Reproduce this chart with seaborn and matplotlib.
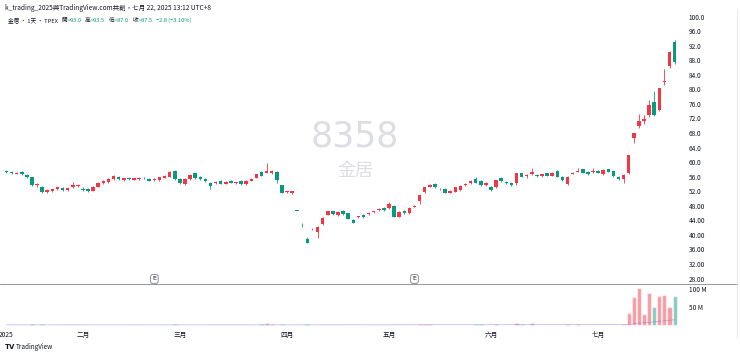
import numpy as np
import pandas as pd
import matplotlib
matplotlib.use('Agg')
import matplotlib.pyplot as plt
import seaborn as sns

# trading calendar (TPEX 2025, exchange holidays removed)
holidays = ['2025-01-01', '2025-01-23', '2025-01-24', '2025-01-27', '2025-01-28',
            '2025-01-29', '2025-01-30', '2025-01-31', '2025-02-28', '2025-04-03',
            '2025-04-04', '2025-05-01', '2025-05-30']
month_names = ['2025', '二月', '三月', '四月', '五月', '六月', '七月']

open_ = [57.5, 57.4, 56.8, 57.3, 56.5, 55.8, 53.6, 53.3, 51.9, 52.1, 52.6, 52.9, 52.3, 53.2, 53.5,
         52.5, 52.6, 52.2, 53.3, 54.2, 54.6, 55.4, 56.0, 55.1, 55.6, 55.2, 55.3, 55.7, 55.3, 55.0,
         55.0, 55.7, 56.0, 57.5,
         55.3, 54.0, 55.4, 56.9, 56.0, 55.3, 54.3, 54.3, 54.9, 54.1, 54.8, 54.3, 54.8, 53.9, 54.9,
         55.7, 57.3, 57.1, 56.9, 57.3, 53.6,
         51.8, 51.4, 46.7, 42.3, 39.0, 41.5, 40.7, 42.9, 45.6, 46.5, 45.5, 46.66, 45.9, 44.1, 44.9,
         45.5, 45.8, 46.3, 46.85, 47.5,
         47.3, 47.9, 45.0, 46.6, 45.9, 47.8, 49.3, 51.8, 53.3, 54.0, 52.5, 52.7, 51.6, 51.9, 52.3,
         53.6, 54.2, 55.3, 54.8, 53.7,
         53.3, 53.1, 55.7, 54.5, 54.35, 54.2, 56.9, 56.2, 56.6, 56.4, 56.2, 56.9, 56.3, 57.5, 56.0,
         54.0, 56.8, 57.4, 58.0, 57.4, 57.3,
         57.6, 56.7, 58.0, 57.6, 56.0, 55.4, 56.9, 66.5, 70.0, 71.4, 72.9, 76.5, 74.3, 82.0, 86.4, 93.0]
high = [57.8, 57.6, 57.4, 57.5, 56.7, 56.0, 54.2, 53.5, 52.5, 52.7, 53.3, 53.2, 53.1, 54.5, 53.9,
        53.1, 52.8, 53.4, 54.5, 55.0, 55.5, 56.5, 56.2, 55.7, 55.8, 55.7, 55.8, 56.0, 55.5, 55.5,
        56.0, 56.4, 57.6, 57.8,
        55.6, 55.5, 56.6, 57.1, 56.2, 55.5, 54.5, 54.9, 55.1, 54.8, 55.0, 54.6, 55.0, 55.0, 55.5,
        56.8, 57.5, 59.8, 57.8, 57.5, 53.8,
        52.1, 52.1, 46.7, 43.2, 39.3, 41.9, 42.5, 44.9, 46.7, 46.7, 46.6, 46.9, 46.1, 44.3, 45.3,
        45.7, 46.2, 46.7, 47.4, 47.7,
        48.95, 48.1, 46.6, 46.8, 47.7, 48.3, 51.3, 53.3, 53.9, 54.2, 52.9, 52.9, 52.3, 53.3, 53.7,
        54.2, 55.1, 55.8, 55.0, 54.6,
        53.5, 55.2, 55.9, 54.7, 54.5, 57.1, 57.1, 56.8, 58.4, 56.8, 56.8, 57.1, 57.3, 57.7, 56.2,
        56.2, 57.2, 58.3, 58.2, 57.6, 58.3,
        57.8, 58.0, 58.2, 57.8, 56.2, 56.6, 62.0, 68.1, 73.2, 72.9, 77.1, 79.4, 80.4, 85.5, 90.4, 93.5]
low = [57.0, 56.8, 56.6, 56.4, 55.6, 53.4, 53.3, 51.5, 51.6, 51.9, 52.4, 52.1, 52.1, 53.0, 53.3,
       52.2, 51.9, 52.0, 53.1, 54.0, 54.4, 55.2, 55.1, 54.9, 55.2, 55.0, 55.1, 55.3, 54.7, 54.8,
       54.8, 55.5, 55.8, 55.0,
       54.1, 53.8, 55.2, 55.3, 55.1, 54.5, 52.5, 54.1, 53.9, 53.9, 54.2, 54.1, 53.7, 53.7, 54.7,
       55.5, 56.1, 56.9, 56.7, 54.4, 51.4,
       51.6, 51.2, 46.7, 42.05, 37.85, 41.3, 39.05, 42.7, 45.4, 45.5, 45.3, 45.5, 44.3, 43.2, 44.7,
       44.7, 45.6, 46.1, 46.7, 46.6,
       47.1, 44.8, 44.8, 45.7, 45.7, 47.6, 48.6, 51.6, 53.1, 52.9, 52.3, 51.4, 51.4, 51.7, 52.1,
       53.4, 54.0, 54.2, 53.5, 53.5,
       52.1, 52.9, 54.6, 54.0, 53.4, 53.6, 55.8, 55.7, 56.4, 56.0, 56.0, 56.1, 56.1, 55.8, 54.9,
       53.6, 56.6, 57.2, 56.9, 56.5, 57.1,
       56.9, 56.5, 57.2, 56.0, 55.1, 54.4, 56.7, 65.2, 69.3, 70.5, 72.3, 72.7, 74.1, 81.2, 85.8, 87.0]
close = [57.2, 56.9, 57.1, 56.6, 55.8, 53.6, 54.0, 51.7, 52.3, 52.5, 53.1, 52.3, 52.9, 53.8, 53.6,
         52.3, 52.1, 53.3, 54.3, 54.8, 55.3, 56.3, 55.3, 55.5, 55.4, 55.5, 55.6, 55.5, 54.9, 55.3,
         55.8, 56.2, 57.4, 55.3,
         54.3, 55.3, 56.4, 55.5, 55.3, 54.7, 53.4, 54.4, 54.1, 54.6, 54.4, 54.4, 53.9, 54.8, 55.3,
         56.6, 56.3, 57.6, 57.6, 55.1, 51.6,
         51.9, 51.96, 46.7, 42.05, 37.9, 41.7, 42.3, 44.7, 46.5, 45.7, 46.4, 45.74, 44.5, 43.4, 45.0,
         44.9, 45.95, 46.4, 47.2, 46.85,
         48.4, 45.0, 46.4, 45.9, 47.5, 48.0, 51.1, 53.1, 53.7, 53.1, 52.7, 51.6, 52.1, 53.1, 53.5,
         54.0, 54.9, 54.4, 53.7, 54.4,
         52.3, 55.0, 54.8, 54.2, 53.6, 56.9, 56.0, 56.3, 57.3, 56.2, 56.6, 56.3, 57.1, 56.0, 55.1,
         56.0, 56.9, 57.6, 57.1, 56.7, 57.4,
         57.1, 57.8, 57.4, 56.2, 55.3, 56.4, 61.9, 67.9, 71.4, 71.8, 75.6, 72.9, 80.3, 82.1, 90.3, 87.5]
# volume, millions of shares
volume = [1.5, 1.2, 1.0, 1.3, 1.4, 2.5, 1.2, 2.2, 1.0, 0.9, 1.1, 0.9, 0.8, 1.4, 0.8,
          0.9, 0.8, 1.0, 1.2, 1.1, 1.2, 1.6, 1.2, 0.8, 0.7, 0.8, 0.9, 0.7, 0.9, 0.8,
          1.0, 1.1, 1.8, 4.5,
          1.6, 1.3, 1.2, 1.5, 1.0, 1.1, 1.8, 0.9, 0.9, 0.8, 0.7, 0.6, 1.0, 0.9, 1.0,
          1.8, 2.2, 6.5, 3.0, 2.0, 2.4,
          0.8, 1.0, 0.6, 1.2, 2.5, 1.8, 1.6, 1.5, 1.9, 1.3, 1.0, 1.1, 1.2, 1.1, 0.7,
          0.8, 0.7, 0.8, 1.0, 1.1,
          1.5, 2.0, 1.2, 1.0, 1.3, 1.0, 2.5, 3.5, 2.8, 1.6, 1.0, 1.4, 0.9, 1.3, 1.6,
          1.4, 2.0, 3.0, 2.6, 1.5,
          1.8, 3.2, 1.5, 1.5, 1.4, 5.0, 4.0, 1.8, 5.0, 1.6, 1.2, 1.3, 1.5, 1.8, 1.4,
          2.2, 1.5, 3.2, 1.5, 1.2, 1.4,
          1.6, 1.8, 1.3, 1.6, 1.8, 2.8, 33, 79, 104, 31, 89, 52, 82, 84, 50, 82]

RED = '#F23645'
GREEN = '#089981'
INK = '#131722'

days = pd.bdate_range('2025-01-02', '2025-07-22')
days = days[~days.isin(pd.to_datetime(holidays))]
n = len(days)
idx = np.arange(n)
o, h, l, c = map(np.array, (open_, high, low, close))
up = c > o
cols = np.where(up, RED, GREEN)

df = pd.DataFrame({'idx': idx, 'vol': volume, 'dir': np.where(up, 'up', 'down')})
df['ma'] = df['vol'].rolling(50, min_periods=1).mean()
month_pos = [int(np.argmax(days.month == m)) for m in range(1, 8)]

sns.set_style('white')
plt.rcParams['font.family'] = ['Noto Sans CJK TC', 'DejaVu Sans']

fig = plt.figure(figsize=(7.4, 3.55), dpi=100)
axp = fig.add_axes([0, 0.2028, 0.923, 0.7634])
axv = fig.add_axes([0, 0.0789, 0.923, 0.1211])

# candles
axp.vlines(idx, l, h, colors=cols, lw=0.6)
axp.bar(idx, np.maximum(np.abs(c - o), 0.25), bottom=np.minimum(o, c), width=0.7,
        color=cols, lw=0)
axp.set_xlim(-1.27, 132.65)
axp.set_ylim(26.79, 101.24)
ticks = np.arange(28, 101, 4)
axp.set_yticks(ticks)
axp.set_yticklabels([f'{v:.1f}' if v >= 52 else f'{v:.2f}' for v in ticks])
axp.yaxis.tick_right()
axp.tick_params(axis='y', length=0, pad=4, labelsize=4.7, labelcolor=INK)
axp.set_xticks([])
for s in axp.spines.values():
    s.set_visible(False)

# watermark
axp.text(0.52, 0.54, '8358', transform=axp.transAxes, ha='center', va='center',
         fontsize=25, color='#DCDEE2', family=['DejaVu Sans'])
axp.text(0.52, 0.415, '金居', transform=axp.transAxes, ha='center', va='center',
         fontsize=13, color='#DCDEE2')

# earnings markers
for xi in (29, 80):
    axp.text(xi, 27.9, 'E', ha='center', va='center', fontsize=4.4, color=INK,
             family=['DejaVu Sans'],
             bbox=dict(boxstyle='round,pad=0.3', fc='white', ec='#787B86', lw=0.6))

# volume
sns.barplot(data=df, x='idx', y='vol', hue='dir', palette={'up': RED, 'down': GREEN},
            native_scale=True, dodge=False, errorbar=None, saturation=1, alpha=0.5,
            width=0.8, legend=False, ax=axv)
sns.lineplot(data=df, x='idx', y='ma', color='#7B6FD6', lw=0.6, alpha=0.45, ax=axv)
axv.set_xlim(-1.27, 132.65)
axv.set_ylim(-4.72, 114.7)
axv.set_yticks([50, 100])
axv.set_yticklabels(['50 M', '100 M'])
axv.yaxis.tick_right()
axv.tick_params(axis='y', length=0, pad=4, labelsize=4.7, labelcolor=INK)
axv.set_xticks(month_pos)
axv.set_xticklabels(month_names)
axv.tick_params(axis='x', length=0, pad=3, labelsize=4.8, labelcolor=INK)
axv.set_xlabel('')
axv.set_ylabel('')
for s in axv.spines.values():
    s.set_visible(False)

# panel separators
fig.add_artist(plt.Line2D([0, 737 / 740], [1 - 283.5 / 355] * 2, color='#9598A1', lw=0.7))
fig.add_artist(plt.Line2D([737 / 740] * 2, [1 - 337 / 355, 1 - 10 / 355], color='#E0E3EB', lw=0.6))

# header
fig.text(5 / 740, 1 - 8 / 355, 'k_trading_2025與TradingView.com共創，七月 22, 2025 13:12 UTC+8',
         fontsize=4.7, color=INK, va='center')

fs = 4.1
prev = fig.text(8 / 740, 1 - 20 / 355, '金居 · 1天 · TPEX', fontsize=fs, color=INK, va='center')
legend_items = [('開', '=93.0'), ('高', '=93.5'), ('低', '=87.0'), ('收', '=87.5')]
for lab, val in legend_items:
    prev = axp.annotate(lab, xy=(1, 0.5), xycoords=prev, xytext=(2.5, 0), textcoords='offset points',
                        va='center', ha='left', fontsize=fs, color=INK, annotation_clip=False)
    prev = axp.annotate(val, xy=(1, 0.5), xycoords=prev, xytext=(0.3, 0), textcoords='offset points',
                        va='center', ha='left', fontsize=fs, color=GREEN, annotation_clip=False)
axp.annotate('−2.8 (−3.10%)', xy=(1, 0.5), xycoords=prev, xytext=(2.5, 0), textcoords='offset points',
             va='center', ha='left', fontsize=fs, color=GREEN, annotation_clip=False)

# footer logo
fig.text(5 / 740, 1 - 347 / 355, 'TV', fontsize=5, fontweight='bold', color=INK,
         va='center', family=['DejaVu Sans'])
fig.text(16 / 740, 1 - 347 / 355, 'TradingView', fontsize=4.6, color=INK, va='center')

fig.savefig('out.png', dpi=100)
